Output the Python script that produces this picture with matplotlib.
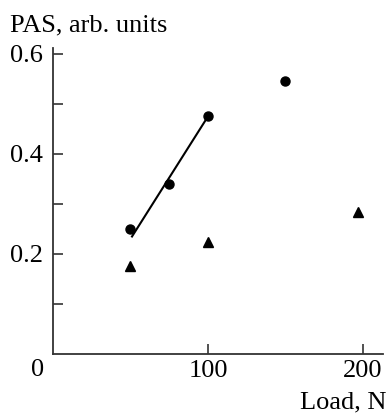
import matplotlib
matplotlib.use("Agg")
import matplotlib.pyplot as plt
import numpy as np

# data
load_circ = [50, 75, 100, 150]
pas_circ = [0.25, 0.34, 0.475, 0.545]
load_tri = [50, 100, 197]
pas_tri = [0.177, 0.225, 0.284]
fit_x = [51, 100]
fit_y = [0.235, 0.475]

plt.rcParams['font.family'] = ['Liberation Serif', 'DejaVu Serif']
FS = 19

fig = plt.figure(figsize=(3.87, 4.16), dpi=100)
ax = fig.add_axes([53 / 387, 1 - 354 / 416, (383 - 53) / 387, (354 - 48) / 416])

ax.plot(fit_x, fit_y, color='black', lw=1.5)
ax.plot(load_circ, pas_circ, 'o', color='black', ms=6.5)
ax.plot(load_tri, pas_tri, '^', color='black', ms=7)

ax.set_xlim(0, 213)
ax.set_ylim(0, 0.612)
for s in ['top', 'right']:
    ax.spines[s].set_visible(False)
for s in ['left', 'bottom']:
    ax.spines[s].set_linewidth(1.3)
    ax.spines[s].set_color('#333333')

ax.set_xticks([100, 200])
ax.set_xticklabels(['100', '200'])
ax.set_yticks([0.2, 0.4, 0.6])
ax.set_yticklabels(['0.2', '0.4', '0.6'])
ax.set_yticks([0.1, 0.3, 0.5], minor=True)
ax.tick_params(direction='in', length=7, width=1.2, labelsize=FS, pad=4, color='#333333')
ax.tick_params(which='minor', direction='in', length=7, width=1.2, color='#333333')
ax.tick_params(axis='y', pad=7)

fig.text(38 / 387, 1 - 370 / 416, '0', fontsize=FS, ha='center', va='center')
fig.text(10 / 387, 1 - 25 / 416, 'PAS, arb. units', fontsize=FS, ha='left', va='center')
fig.text(386 / 387, 1 - 402 / 416, 'Load, N', fontsize=FS, ha='right', va='center')

fig.savefig('out.png', dpi=100)
